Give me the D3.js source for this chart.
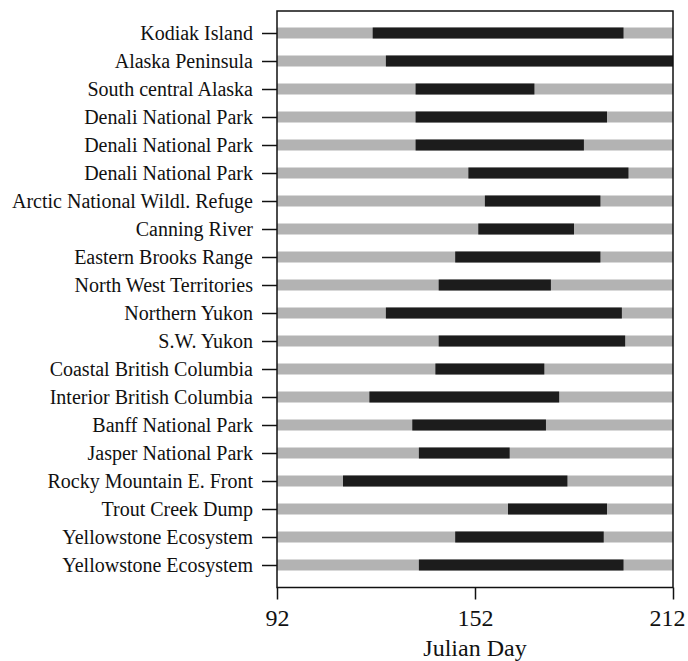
<!DOCTYPE html>
<html>
<head>
<meta charset="utf-8">
<script src="https://cdn.jsdelivr.net/npm/d3@7"></script>
<style>
  body { margin: 0; background: #fff; }
  text { font-family: "Liberation Serif", "Times New Roman", serif; fill: #111; }
</style>
</head>
<body>
<div id="chart"></div>
<script>
        // Study areas, top to bottom
        const areas = [
            "Kodiak Island", "Alaska Peninsula", "South central Alaska",
            "Denali National Park", "Denali National Park", "Denali National Park",
            "Arctic National Wildl. Refuge", "Canning River", "Eastern Brooks Range",
            "North West Territories", "Northern Yukon", "S.W. Yukon",
            "Coastal British Columbia", "Interior British Columbia", "Banff National Park",
            "Jasper National Park", "Rocky Mountain E. Front", "Trout Creek Dump",
            "Yellowstone Ecosystem", "Yellowstone Ecosystem"
        ];

        // First and last Julian day of each dark bar
        const startDay = [121, 125, 134, 134, 134, 150, 155, 153, 146, 141,
                          125, 141, 140, 120, 133, 135, 112, 162, 146, 135];
        const endDay = [197, 212, 170, 192, 185, 198.5, 190, 182, 190, 175,
                        196.5, 197.5, 173, 177.5, 173.5, 162.5, 180, 192, 191, 197];

        const dayTicks = [92, 152, 212];

        const width = 688;
        const height = 661;
        const margin = { top: 11, right: 15, bottom: 74, left: 277 };

        const svg = d3.select("#chart")
            .append("svg")
            .attr("width", width)
            .attr("height", height);

        const x = d3.scaleLinear()
            .domain([92, 212])
            .range([margin.left, width - margin.right]);

        const y = d3.scalePoint()
            .domain(d3.range(areas.length))
            .range([33, 565]);

        const barH = 11;

        // Gray band for the whole season
        svg.selectAll("rect.bg")
            .data(areas)
            .enter()
            .append("rect")
            .attr("class", "bg")
            .attr("x", x(92))
            .attr("width", x(212) - x(92))
            .attr("y", (d, i) => y(i) - barH / 2)
            .attr("height", barH)
            .style("fill", "#b3b3b3");

        // Dark bar for the active period
        svg.selectAll("rect.bar")
            .data(areas)
            .enter()
            .append("rect")
            .attr("class", "bar")
            .attr("x", (d, i) => x(startDay[i]))
            .attr("width", (d, i) => x(endDay[i]) - x(startDay[i]))
            .attr("y", (d, i) => y(i) - barH / 2)
            .attr("height", barH)
            .style("fill", "#1c1c1c");

        // Frame
        const bottom = height - margin.bottom + 0.5;
        svg.append("rect")
            .attr("x", margin.left)
            .attr("y", margin.top)
            .attr("width", x(212) - margin.left)
            .attr("height", bottom - margin.top)
            .style("fill", "none")
            .style("stroke", "#111")
            .style("stroke-width", 1.5);

        // Left axis with area names
        const yAxis = d3.axisLeft(y)
            .tickFormat(i => areas[i])
            .tickSize(15)
            .tickPadding(9);

        const gy = svg.append("g")
            .attr("transform", `translate(${margin.left},0)`)
            .call(yAxis);
        gy.select(".domain").remove();
        gy.selectAll("line").style("stroke", "#111").style("stroke-width", 1.5);
        gy.selectAll("text").style("font-size", "20px");

        // Bottom axis
        const xAxis = d3.axisBottom(x)
            .tickValues(dayTicks)
            .tickSize(12)
            .tickPadding(9);

        const gx = svg.append("g")
            .attr("transform", `translate(0,${bottom})`)
            .call(xAxis);
        gx.select(".domain").remove();
        gx.selectAll("line").style("stroke", "#111").style("stroke-width", 1.5);
        gx.selectAll("text")
            .style("font-size", "24px")
            .attr("dx", d => d === 212 ? -6 : 0);

        svg.append("text")
            .attr("x", x(152))
            .attr("y", 656)
            .attr("text-anchor", "middle")
            .style("font-size", "24px")
            .text("Julian Day");
</script>
</body>
</html>
